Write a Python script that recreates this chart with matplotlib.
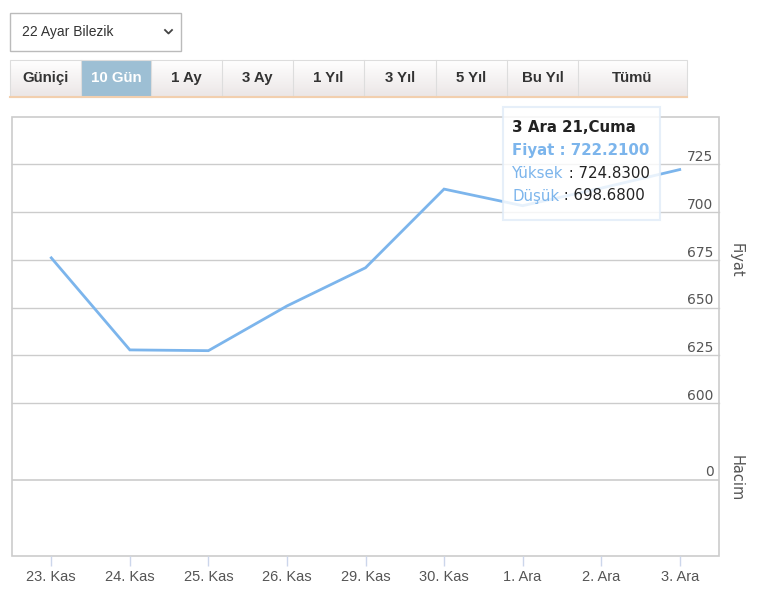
import matplotlib
matplotlib.use("Agg")
import matplotlib.pyplot as plt
import numpy as np
from matplotlib.patches import Rectangle

# ---------------- data ----------------
categories = ["23. Kas", "24. Kas", "25. Kas", "26. Kas", "29. Kas",
              "30. Kas", "1. Ara", "2. Ara", "3. Ara"]
prices = [676.0, 627.8, 627.4, 650.8, 670.8, 712.0, 703.3, 712.5, 722.21]
price_ticks = [600, 625, 650, 675, 700, 725]
volume_ticks = [0]
buttons = ["Güniçi", "10 Gün", "1 Ay", "3 Ay", "1 Yıl", "3 Yıl", "5 Yıl", "Bu Yıl", "Tümü"]
active_button = "10 Gün"
dropdown_label = "22 Ayar Bilezik"
tooltip_title = "3 Ara 21,Cuma"
tooltip_price = "722.2100"
tooltip_high = "724.8300"
tooltip_low = "698.6800"

W, H = 779, 615
DPI = 100
fig = plt.figure(figsize=(W / DPI, H / DPI), dpi=DPI)
fig.patch.set_facecolor("white")

narrow = ["Liberation Sans Narrow", "Liberation Sans", "DejaVu Sans"]

def rect(l, t, r, b):
    return [l / W, 1 - b / H, (r - l) / W, (b - t) / H]

# ---------------- UI overlay axes (pixel coords) ----------------
ui = fig.add_axes([0, 0, 1, 1], zorder=0)
ui.set_xlim(0, W)
ui.set_ylim(H, 0)
ui.axis("off")

# dropdown
ui.add_patch(Rectangle((10.5, 12.5), 171, 38, fill=False, edgecolor="#bbbbbb", lw=1))
ui.text(22, 32, dropdown_label, fontsize=10, family=narrow, color="#333333",
        va="center", ha="left")
ui.plot([165, 168.5, 172], [30, 33.5, 30], color="#444444", lw=1.3)

# button bar
bar_l, bar_r, bar_t, bar_b = 10, 687, 60, 97
grad = np.linspace(1.0, 0.0, 64).reshape(-1, 1)
ui.imshow(grad, extent=[bar_l, bar_r, bar_b, bar_t],
          cmap=matplotlib.colors.LinearSegmentedColormap.from_list("g", ["#ebe6e6", "#ffffff"]),
          aspect="auto", zorder=1)
edges = [10, 81, 151, 222, 293, 364, 436, 507, 578, 687]
for i, lab in enumerate(buttons):
    l, r = edges[i], edges[i + 1]
    if lab == active_button:
        ui.add_patch(Rectangle((l, bar_t), r - l, bar_b - bar_t, facecolor="#9dbfd4",
                               edgecolor="none", zorder=2))
        col = "white"
    else:
        col = "#333333"
    ui.text((l + r) / 2, 78, lab, fontsize=10.8, family=narrow, fontweight="bold",
            color=col, ha="center", va="center", zorder=3)
    if i > 0:
        ui.plot([l, l], [bar_t, bar_b], color="#dddddd", lw=0.8, zorder=2)
ui.add_patch(Rectangle((bar_l, bar_t), bar_r - bar_l, bar_b - bar_t, fill=False,
                       edgecolor="#dddddd", lw=0.8, zorder=2))
ui.plot([bar_l, bar_r], [97, 97], color="#f2cfae", lw=1.5, zorder=3)

# chart frame
frame_l, frame_r, frame_t, frame_b = 12, 719, 116.5, 556
ui.add_patch(Rectangle((frame_l, frame_t), frame_r - frame_l, frame_b - frame_t, fill=False,
                       edgecolor="#cccccc", lw=1.2, zorder=1))

# ---------------- price axes ----------------
xlim = (-0.5, len(categories) - 0.5)
x = np.arange(len(categories))
axp = fig.add_axes(rect(frame_l, frame_t, frame_r, 403), zorder=2)
axp.set_xlim(*xlim)
axp.set_ylim(600, 750)
axp.patch.set_alpha(0)
for s in axp.spines.values():
    s.set_visible(False)
axp.set_xticks([])
axp.set_yticks([])
for v in price_ticks:
    axp.axhline(v, color="#cccccc", lw=1, zorder=1, clip_on=False)
    axp.annotate(str(v), xy=(1, v), xycoords=axp.get_yaxis_transform(),
                 xytext=(-4, 0), textcoords="offset points", ha="right", va="bottom",
                 fontsize=10, color="#555555")
axp.plot(x, prices, color="#7cb5ec", lw=2, zorder=3, solid_joinstyle="miter")

# ---------------- volume axes ----------------
axv = fig.add_axes(rect(frame_l, 403, frame_r, frame_b), zorder=2)
axv.set_xlim(*xlim)
axv.set_ylim(-1, 1)
axv.patch.set_alpha(0)
for s in axv.spines.values():
    s.set_visible(False)
axv.set_yticks([])
for v in volume_ticks:
    axv.axhline(v, color="#cccccc", lw=1.2, zorder=1)
    axv.annotate(str(v), xy=(1, v), xycoords=axv.get_yaxis_transform(),
                 xytext=(-4, 0.5), textcoords="offset points", ha="right", va="bottom",
                 fontsize=10, color="#555555")
axv.set_xticks(x)
axv.set_xticklabels(categories, family=narrow, fontsize=10.5, color="#555555")
axv.tick_params(axis="x", length=7, width=1, color="#ccd6eb", pad=3)

# axis titles
fig.text(736 / W, 1 - 260 / H, "Fiyat", rotation=270, ha="center", va="center",
         fontsize=10.5, color="#555555")
fig.text(736 / W, 1 - 478 / H, "Hacim", rotation=270, ha="center", va="center",
         fontsize=10.5, color="#555555")

# ---------------- tooltip ----------------
tt = fig.add_axes([0, 0, 1, 1], zorder=5)
tt.set_xlim(0, W)
tt.set_ylim(H, 0)
tt.axis("off")
tt.add_patch(Rectangle((503.5, 106.5), 157, 113, facecolor="white", alpha=0.82,
                       edgecolor="#e1ecf8", lw=1.5))
blue = "#7cb5ec"
fs = 10.8
tt.text(512, 127, tooltip_title, fontsize=fs, fontweight="bold", color="#222222",
        va="center", ha="left")
tt.text(512, 150, "Fiyat : " + tooltip_price, fontsize=fs, fontweight="bold", color=blue,
        va="center", ha="left")
t1 = tt.text(512, 173, "Yüksek", fontsize=fs, color=blue, va="center", ha="left")
tt.annotate(" : " + tooltip_high, xy=(1, 0.5), xycoords=t1, fontsize=fs, color="#222222",
            va="center", ha="left")
t2 = tt.text(512, 196, "Düşük", fontsize=fs, color=blue, va="center", ha="left")
tt.annotate(" : " + tooltip_low, xy=(1, 0.5), xycoords=t2, fontsize=fs, color="#222222",
            va="center", ha="left")

fig.savefig("out.png", dpi=DPI)
